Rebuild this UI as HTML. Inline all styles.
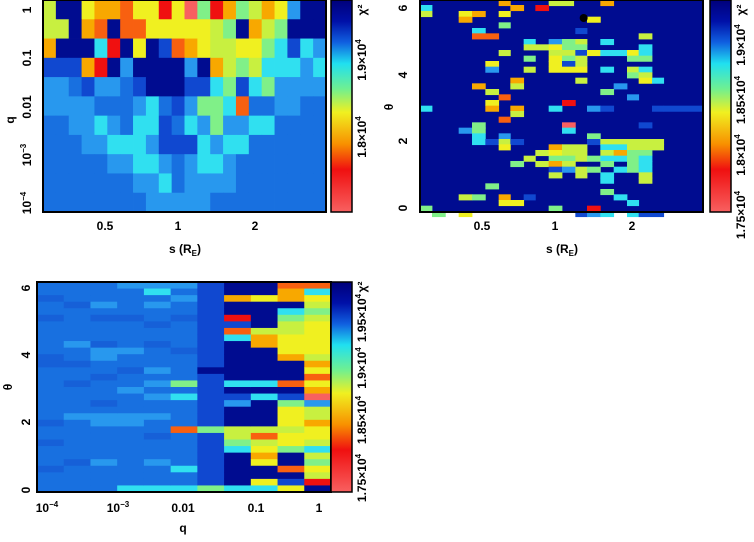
<!DOCTYPE html>
<html><head><meta charset="utf-8"><style>
body{margin:0;background:#fff;width:754px;height:537px;overflow:hidden}
svg text{font-family:"Liberation Sans",sans-serif;font-weight:bold;font-size:12px;fill:#000}
</style></head><body>
<svg id="s" width="754" height="537" xmlns="http://www.w3.org/2000/svg">
<defs><linearGradient id="cb" x1="0" y1="0" x2="0" y2="1">
<stop offset="0" stop-color="#00007a"/><stop offset="0.1" stop-color="#0010a8"/><stop offset="0.2" stop-color="#1060e0"/>
<stop offset="0.3" stop-color="#20e0f0"/><stop offset="0.42" stop-color="#70f090"/><stop offset="0.53" stop-color="#f0f020"/>
<stop offset="0.68" stop-color="#f89000"/><stop offset="0.8" stop-color="#f01010"/><stop offset="1" stop-color="#f86060"/></linearGradient></defs>
<g id="g"></g>
</svg>
<script>
const P={B:"#000c90",b:"#1048d0",m:"#1870e0",n:"#1660d8",c:"#2898ee",C:"#30e0f0",g:"#80f088",Y:"#c8f040",y:"#f0f020",o:"#f8a800",O:"#f86010",r:"#f01010",p:"#f86060",K:"#000"};
const g=document.getElementById('g');let h='';
function R(x,y,w,hh,c){h+=`<rect x="${x.toFixed(2)}" y="${y.toFixed(2)}" width="${(w+0.4).toFixed(2)}" height="${(hh+0.4).toFixed(2)}" fill="${P[c]||c}"/>`;}
const r1=["YBByooOyyrypgrogYoycBB","YYBoOBOOyyyyyYgBoYgBBB","oBBBCrByBbOoyYYyygCbCc","bbborBcBBBBcBoYgYCCCcC","ccmbccmbBBBbbCgbCgcccc","ccccmmmcCmbcggCOmmccmm","mmccCcmCCbmCcgccCCmmmm","mmmccCCCcbbbCcCCmmmmmm","mmmmmccCCcmcCCcmmmmmmm","mmmmmmmccCmccccmmmmmmm","mmmmmmmmcccccmmmmmmmmm"];
let x0=43,x1=326,y0=0,y1=212,cw=(x1-x0)/22,rh=(y1-y0)/11;
r1.forEach((s,i)=>{for(let j=0;j<22;j++)R(x0+j*cw,y0+i*rh,cw,rh,s[j]||'m');});
x0=420;x1=703;R(x0,0,x1-x0,212,'B');
const Z=(zx,zy,zw,zh,c)=>R(377+zx/3,zy/3,zw/3,zh/3,c);
const L=[[0,[[365,400,'o'],[515,590,'Y'],[670,710,'o']]],[15,[[130,165,'C'],[400,440,'o'],[475,515,'r']]],[33,[[130,165,'Y'],[245,285,'y'],[285,325,'o'],[365,400,'y']]],[50,[[245,285,'o'],[630,670,'y']]],[67,[[365,400,'g']]],[84,[[285,325,'C'],[595,630,'b']]],[100,[[285,365,'O'],[785,825,'Y']]],[117,[[440,475,'C'],[515,555,'c'],[555,595,'g'],[595,630,'Y'],[670,710,'C']]],[133,[[440,515,'Y'],[515,555,'y'],[555,630,'g'],[785,825,'C']]],[150,[[365,400,'Y'],[515,595,'Y'],[595,630,'b'],[630,670,'y'],[670,750,'C'],[750,785,'y'],[785,825,'C']]],[167,[[440,475,'g'],[515,555,'y'],[555,595,'g'],[595,630,'Y'],[750,825,'g']]],[183,[[325,365,'y'],[515,555,'y'],[555,595,'b'],[595,630,'Y']]],[200,[[325,365,'c'],[440,475,'Y'],[515,630,'y'],[670,710,'C'],[750,785,'Y'],[785,825,'C']]],[217,[[750,785,'g'],[785,825,'Y']]],[233,[[400,440,'o'],[595,630,'Y'],[785,825,'y'],[825,860,'C']]],[250,[[285,325,'o'],[400,440,'Y'],[710,750,'c']]],[267,[[325,365,'Y'],[670,710,'g']]],[283,[[365,400,'O'],[750,785,'c']]],[300,[[325,365,'y'],[555,595,'r']]],[317,[[130,165,'C'],[325,365,'o'],[400,440,'o'],[515,555,'C'],[630,670,'c'],[670,710,'b'],[825,860,'b'],[860,975,'b']]],[333,[[400,440,'Y']]],[350,[[365,400,'O']]],[367,[[285,325,'g'],[555,595,'p'],[785,825,'b']]],[383,[[245,285,'c'],[285,325,'g'],[555,595,'C']]],[400,[[285,325,'C'],[365,400,'c'],[630,670,'g']]],[417,[[285,325,'C'],[325,365,'b'],[365,400,'Y'],[400,440,'b'],[630,670,'b'],[670,710,'Y'],[710,860,'Y']]],[433,[[365,400,'y'],[515,555,'o'],[555,630,'Y'],[670,750,'C'],[750,860,'Y']]],[450,[[475,515,'Y'],[515,555,'y'],[555,630,'Y'],[670,710,'Y'],[710,750,'o'],[750,825,'g']]],[467,[[440,475,'Y'],[515,595,'g'],[595,630,'Y'],[630,670,'g'],[670,750,'C'],[750,785,'g'],[785,825,'C']]],[483,[[400,440,'g'],[475,515,'Y'],[515,555,'o'],[555,595,'Y'],[670,710,'g'],[750,785,'g'],[785,825,'C']]],[500,[[515,555,'b'],[555,595,'c'],[595,630,'Y'],[630,670,'g'],[710,750,'C'],[750,785,'g'],[785,825,'C']]],[517,[[515,555,'Y'],[595,630,'Y'],[670,710,'C'],[785,825,'Y']]],[533,[[670,710,'C'],[785,825,'Y']]],[550,[[325,365,'g']]],[567,[[670,710,'g']]],[583,[[245,285,'Y'],[285,325,'g'],[365,400,'o'],[440,475,'b'],[710,750,'C']]],[600,[[365,440,'y'],[750,785,'C']]],[617,[[130,165,'g'],[515,555,'g'],[630,670,'r']]],[633,[[165,205,'g'],[245,285,'y'],[595,630,'b'],[630,670,'c'],[670,710,'C'],[750,785,'C'],[785,860,'b']]]];
L.forEach(([y,a])=>a.forEach(([a1,a2,c])=>Z(a1,y,a2-a1,17,c)));
h+=`<circle cx="${377+620/3}" cy="18" r="4" fill="#000"/>`;
x0=37;x1=331;const Y0=282,Y1=492;cw=(x1-x0)/11;rh=(Y1-Y0)/32;
const cols=[
"mmnmmnmmmmmnnmmmmmmmmnmmnmmmnmmm",
"mmmnmmmmmcmmnmmnmmmmcmmmmmmnmmmm",
"mmmcmnmmmnccmmnmmmnmccmmmmmcmmmm",
"cmmmmnmmmmcmmnmmcmmmccmmmmmmmmmC",
"cCmcmmnmmnmmmcmcmcmmcmmnmmmcmmmC",
"cmcmmnmmmmnmmmmgmCmmmmOmmmmmCmmC",
"bbbbbbbbbbbbbBbbbbbbbbgbbbbbbbbg",
"BBoBBrbOCBBBBBBCBbcBBBYYgCBBBBBC",
"BByBBBBYooBBBBBCBCBBBBYOYyoyBByC",
"OooBCgYYyyyoBBBOBbgyyyYyygBBOBby",
"OCyYgYyyyyyYoyOyopcYYoyyYCYgyYrB"];
cols.forEach((s,j)=>{for(let i=0;i<32;i++)R(x0+j*cw,Y0+i*rh,cw,rh,s[i]||'m');});
h+=`<rect x="43" y="0" width="283" height="212" fill="none" stroke="#000" stroke-width="2"/>`;
h+=`<rect x="420" y="0" width="283" height="212" fill="none" stroke="#000" stroke-width="2"/>`;
h+=`<rect x="37" y="282" width="294" height="210" fill="none" stroke="#000" stroke-width="2"/>`;
[[331,0,212],[710,0,212],[331,282,210]].forEach(([x,y,hh])=>h+=`<rect x="${x}" y="${y}" width="21" height="${hh}" fill="url(#cb)" stroke="#000" stroke-width="1.5"/>`);
const T=(x,y,t,rot)=>h+=rot?`<text transform="translate(${x},${y}) rotate(-90)" text-anchor="middle">${t}</text>`:`<text x="${x}" y="${y}" text-anchor="middle">${t}</text>`;
const sup=(b,e)=>`${b}<tspan dy="-5" font-size="8">${e}</tspan>`;
T(31,10,'1',1);T(31,58,'0.1',1);T(31,107,'0.01',1);T(31,155,sup('10','−3'),1);T(31,203,sup('10','−4'),1);T(14,120,'q',1);
[[105,'0.5'],[178,'1'],[255,'2']].forEach(([x,t])=>{T(x,230,t);T(x+377,230,t);});
T(185,253,'s (R<tspan dy="3" font-size="8">E</tspan><tspan dy="-3">)</tspan>');T(562,253,'s (R<tspan dy="3" font-size="8">E</tspan><tspan dy="-3">)</tspan>');
[[208,'0'],[141,'2'],[75,'4'],[8,'6']].forEach(([y,t])=>T(407,y,t,1));T(393,107,'θ',1);
[[490,'0'],[422,'2'],[355,'4'],[288,'6']].forEach(([y,t])=>T(30,y,t,1));T(12,387,'θ',1);
[[47,sup('10','−4')],[118,sup('10','−3')],[183,'0.01'],[256,'0.1'],[319,'1']].forEach(([x,t])=>T(x,512,t));T(183,532,'q');
const V=(x,y,t)=>h+=`<text transform="translate(${x},${y}) rotate(-90)" text-anchor="middle" font-size="10">${t}</text>`;
V(366,60,sup('1.9×10','4'));V(366,137,sup('1.8×10','4'));V(366,10,'χ²');
V(745,45,sup('1.9×10','4'));V(745,100,sup('1.85×10','4'));V(745,155,sup('1.8×10','4'));V(745,215,sup('1.75×10','4'));V(745,10,'χ²');
V(366,318,sup('1.95×10','4'));V(366,368,sup('1.9×10','4'));V(366,420,sup('1.85×10','4'));V(366,478,sup('1.75×10','4'));V(366,287,'χ²');
g.innerHTML=h;
</script>
</body></html>
